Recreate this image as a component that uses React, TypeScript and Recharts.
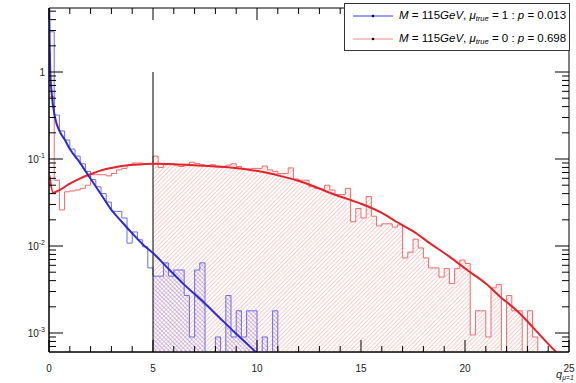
import React from 'react';
import { ComposedChart, Line, Area, XAxis, YAxis, ReferenceLine, ReferenceArea, Legend } from 'recharts';

// ---------- data ----------
const BIN_WIDTH = 0.25;
const Q_MAX = 25;

// histogram of q for mu_true = 0 (red), 100 bins of 0.25
const RED_HIST = [
  0.52, 0.057, 0.026, 0.042, 0.043, 0.044, 0.046, 0.05, 0.066, 0.066,
  0.066, 0.064, 0.068, 0.075, 0.078, 0.084, 0.09, 0.09, 0.088, 0.088,
  0.108, 0.08, 0.086, 0.088, 0.085, 0.082, 0.087, 0.092, 0.089, 0.086,
  0.084, 0.086, 0.083, 0.08, 0.085, 0.088, 0.082, 0.078, 0.077, 0.078,
  0.078, 0.083, 0.075, 0.072, 0.068, 0.068, 0.079, 0.059, 0.057, 0.057,
  0.048, 0.046, 0.045, 0.05, 0.044, 0.039, 0.039, 0.046, 0.019, 0.027,
  0.021, 0.037, 0.022, 0.017, 0.018, 0.018, 0.0165, 0.0175, 0.0073, 0.0085,
  0.012, 0.0095, 0.0073, 0.0056, 0.0056, 0.0044, 0.0055, 0.0037, 0.0055, 0.0069,
  0.0063, 0.00095, 0.0018, 0.0018, 0.0009, 0.0033, 0.0036, 0, 0.0027, 0.0018,
  0.0018, 0, 0.0018, 0.0009, 0, 0, 0, 0, 0, 0,
];

// histogram of q for mu_true = 1 (blue)
const BLUE_HIST = [
  2.9, 0.32, 0.21, 0.165, 0.13, 0.108, 0.088, 0.072, 0.058, 0.048,
  0.04, 0.032, 0.025, 0.025, 0.021, 0.0108, 0.0145, 0.0118, 0.0098, 0.0056,
  0.0045, 0.0045, 0.0064, 0.0045, 0.0053, 0.0053, 0.0027, 0.0009, 0.0053, 0.0064,
  0, 0, 0.0009, 0, 0.0027, 0.0009, 0.0018, 0.0009, 0.0018, 0.0018,
  0, 0.0009, 0, 0.0018, 0, 0, 0, 0, 0, 0,
  0, 0, 0, 0, 0, 0, 0, 0, 0, 0,
  0, 0, 0, 0, 0, 0, 0, 0, 0, 0,
  0, 0, 0, 0, 0, 0, 0, 0, 0, 0,
  0, 0, 0, 0, 0, 0, 0, 0, 0, 0,
  0, 0, 0, 0, 0, 0, 0, 0, 0, 0,
];

// asymptotic curves
const RED_CURVE_Q = [0.02, 0.2, 0.5, 1, 1.5, 2, 2.5, 3, 3.5, 4, 4.5, 5, 6, 7, 8, 8.7, 9.5, 10.3, 11, 11.9, 12.7, 13.5, 14.3, 15.1, 16, 16.7, 17.5, 18.3, 19.2, 20.1, 21, 21.7, 22.5, 23.3, 24, 24.4, 25];
const RED_CURVE_V = [0.065, 0.041, 0.044, 0.052, 0.06, 0.067, 0.074, 0.079, 0.083, 0.086, 0.087, 0.088, 0.087, 0.085, 0.082, 0.08, 0.076, 0.071, 0.065, 0.057, 0.049, 0.041, 0.035, 0.03, 0.024, 0.019, 0.0148, 0.0108, 0.0077, 0.0053, 0.0037, 0.0026, 0.0018, 0.00114, 0.00075, 0.0006, 0.00042];

const BLUE_CURVE_Q = [0.01, 0.03, 0.06, 0.12, 0.29, 0.5, 0.77, 1.0, 1.4, 1.87, 2.45, 3.0, 3.5, 4.0, 4.5, 5.0, 5.8, 6.5, 7.4, 8.2, 9.0, 9.8, 10.5];
const BLUE_CURVE_V = [5.5, 2.2, 1.0, 0.6, 0.3, 0.21, 0.165, 0.13, 0.097, 0.066, 0.041, 0.026, 0.019, 0.014, 0.0105, 0.0083, 0.0053, 0.0036, 0.0023, 0.0015, 0.00098, 0.00065, 0.00045];

const X_TICKS = [0, 1, 2, 3, 4, 5, 6, 7, 8, 9, 10, 11, 12, 13, 14, 15, 16, 17, 18, 19, 20, 21, 22, 23, 24, 25];
const X_LABELED = [0, 5, 10, 15, 20, 25];
const Y_DECADES = [1e-3, 1e-2, 1e-1, 1];
const Y_DECADE_LABELS = ['10', '10', '10', '1'];
const Y_DECADE_EXP = ['-3', '-2', '-1', ''];

const Y_MIN = 6.05e-4;
const Y_MAX = 5.44;
const FLOOR = 1e-6;

const CUT_Q = 5;
const CUT_TOP = 1;

const MASS = '115';
const LEGEND_ENTRIES = [
  { mu: '1', p: '0.013', color: '#3b3bf0' },
  { mu: '0', p: '0.698', color: '#f28a8a' },
];

// ---------- styling ----------
const W = 576;
const H = 383;
const PLOT_W = 520;
const PLOT_H = 344;
const FONT = '"Liberation Sans", Arial, Helvetica, sans-serif';

const RED_CURVE_C = '#e4232a';
const RED_HIST_C = '#f06a6a';
const RED_HATCH_C = '#ef8f8f';
const BLUE_CURVE_C = '#2b2bd2';
const BLUE_HIST_C = '#6a6af2';
const BLUE_HATCH_C = '#7b6be0';

// ---------- derived series ----------
const histPoints = (arr: number[], fromBin: number) => {
  const pts = [] as { q: number; v: number }[];
  for (let i = fromBin; i < arr.length; i++) pts.push({ q: i * BIN_WIDTH, v: Math.max(arr[i], FLOOR) });
  pts.push({ q: Q_MAX, v: Math.max(arr[arr.length - 1], FLOOR) });
  return pts;
};
const curvePoints = (qs: number[], vs: number[]) => qs.map((q, i) => ({ q, v: vs[i] }));

const redHistData = histPoints(RED_HIST, 0);
const blueHistData = histPoints(BLUE_HIST, 0);
const cutBin = Math.round(CUT_Q / BIN_WIDTH);
const redTailData = histPoints(RED_HIST, cutBin);
const blueTailData = histPoints(BLUE_HIST, cutBin);
const redCurveData = curvePoints(RED_CURVE_Q, RED_CURVE_V);
const blueCurveData = curvePoints(BLUE_CURVE_Q, BLUE_CURVE_V);

const Y_TICKS: number[] = [];
for (let e = -4; e <= 0; e++) {
  for (let m = 1; m <= 9; m++) {
    const v = m * Math.pow(10, e);
    if (v >= Y_MIN && v <= Y_MAX) Y_TICKS.push(parseFloat(v.toPrecision(3)));
  }
}

// ---------- custom ticks ----------
const XTick = (props: any) => {
  const { x, y, payload } = props;
  const v = payload.value;
  const major = X_LABELED.includes(v);
  const len = major ? 12 : 6;
  return (
    <g>
      <line x1={x} y1={y} x2={x} y2={y - len} stroke="#000" strokeWidth={1} />
      <line x1={x} y1={y - PLOT_H} x2={x} y2={y - PLOT_H + len} stroke="#000" strokeWidth={1} />
      {major && (
        <text x={x} y={y + 20} textAnchor="middle" fontSize={10} fontFamily={FONT} fill="#222">
          {v}
        </text>
      )}
    </g>
  );
};

const YTick = (props: any) => {
  const { x, y, payload } = props;
  const v = payload.value;
  const di = Y_DECADES.findIndex((d) => Math.abs(d - v) / d < 1e-6);
  const major = di >= 0;
  const len = major ? 14 : 7;
  return (
    <g>
      <line x1={x} y1={y} x2={x + len} y2={y} stroke="#000" strokeWidth={1} />
      <line x1={x + PLOT_W} y1={y} x2={x + PLOT_W - len} y2={y} stroke="#000" strokeWidth={1} />
      {major && (
        <text x={x - 4} y={y + 4} textAnchor="end" fontSize={10} fontFamily={FONT} fill="#222">
          {Y_DECADE_LABELS[di]}
          {Y_DECADE_EXP[di] && (
            <tspan dy={-5} fontSize={7}>
              {Y_DECADE_EXP[di]}
            </tspan>
          )}
        </text>
      )}
    </g>
  );
};

const XTitle = (props: any) => {
  const vb = props.viewBox || { x: 0, y: 0, width: 0 };
  const x = vb.x + vb.width - 13;
  const y = vb.y + 26;
  return (
    <text x={x} y={y} fontSize={11} fontFamily={FONT} fill="#222">
      <tspan fontStyle="italic">q</tspan>
      <tspan dy={2} fontSize={7} fontStyle="italic">
        μ=1
      </tspan>
    </text>
  );
};

const LegendBox = () => (
  <div
    style={{
      width: 226,
      height: 48,
      border: '1px solid #333',
      background: '#fff',
      boxSizing: 'border-box',
      fontFamily: FONT,
      fontSize: 11.5,
      color: '#000',
      paddingTop: 0,
    }}
  >
    {LEGEND_ENTRIES.map((e, i) => (
      <div key={i} style={{ display: 'flex', alignItems: 'center', height: 23 }}>
        <svg width={46} height={10} style={{ marginLeft: 8, flex: 'none' }}>
          <line x1={0} y1={5} x2={40} y2={5} stroke={e.color} strokeWidth={1} />
          <circle cx={20} cy={5} r={1.3} fill="#000" />
        </svg>
        <span style={{ whiteSpace: 'nowrap' }}>
          <i>M</i> = {MASS}
          <i>GeV</i>, <i>μ</i>
          <sub style={{ fontSize: 7.5, fontStyle: 'italic', verticalAlign: '-2px' }}>true</sub> = {e.mu} : <i>p</i> = {e.p}
        </span>
      </div>
    ))}
  </div>
);

export default function App() {
  return (
    <div style={{ position: 'absolute', left: 0, top: 0, width: W, height: H, background: '#fff' }}>
      <ComposedChart width={W} height={H} margin={{ top: 8, right: 7, bottom: 1, left: 9 }}>
        <defs>
          <pattern id="redHatch" width={3} height={3} patternUnits="userSpaceOnUse" patternTransform="rotate(45)">
            <line x1={0} y1={0} x2={0} y2={3} stroke={RED_HATCH_C} strokeWidth={0.9} />
          </pattern>
          <pattern id="blueHatch" width={3} height={3} patternUnits="userSpaceOnUse" patternTransform="rotate(-45)">
            <line x1={0} y1={0} x2={0} y2={3} stroke={BLUE_HATCH_C} strokeWidth={0.9} />
          </pattern>
        </defs>
        <XAxis
          type="number"
          dataKey="q"
          domain={[0, Q_MAX]}
          ticks={X_TICKS}
          interval={0}
          allowDataOverflow
          tickSize={0}
          tickMargin={0}
          tickLine={false}
          axisLine={{ stroke: '#000' }}
          tick={<XTick />}
          height={30}
          label={{ content: (p: any) => <XTitle {...p} /> }}
        />
        <YAxis
          type="number"
          scale="log"
          domain={[Y_MIN, Y_MAX]}
          allowDataOverflow
          ticks={Y_TICKS}
          interval={0}
          tickSize={0}
          tickMargin={0}
          tickLine={false}
          axisLine={{ stroke: '#000' }}
          tick={<YTick />}
          width={40}
        />
        <ReferenceArea x1={0} x2={Q_MAX} y1={Y_MIN} y2={Y_MAX} fill="none" stroke="#000" strokeWidth={1} ifOverflow="visible" />
        <Area data={redTailData} dataKey="v" type="stepAfter" baseValue={Y_MIN} fill="url(#redHatch)" fillOpacity={1} stroke="none" isAnimationActive={false} />
        <Area data={blueTailData} dataKey="v" type="stepAfter" baseValue={Y_MIN} fill="url(#blueHatch)" fillOpacity={1} stroke="none" isAnimationActive={false} />
        <Line data={redHistData} dataKey="v" type="stepAfter" stroke={RED_HIST_C} strokeWidth={1} dot={false} isAnimationActive={false} />
        <Line data={blueHistData} dataKey="v" type="stepAfter" stroke={BLUE_HIST_C} strokeWidth={1} dot={false} isAnimationActive={false} />
        <ReferenceLine segment={[{ x: CUT_Q, y: Y_MIN }, { x: CUT_Q, y: CUT_TOP }]} stroke="#000" strokeWidth={1} />
        <Line data={redCurveData} dataKey="v" type="monotone" stroke={RED_CURVE_C} strokeWidth={2} dot={false} isAnimationActive={false} />
        <Line data={blueCurveData} dataKey="v" type="monotone" stroke={BLUE_CURVE_C} strokeWidth={2} dot={false} isAnimationActive={false} />
        <Legend
          layout="vertical"
          align="center"
          verticalAlign="middle"
          wrapperStyle={{ left: 344, top: 3, width: 226 }}
          content={() => <LegendBox />}
        />
      </ComposedChart>
    </div>
  );
}
